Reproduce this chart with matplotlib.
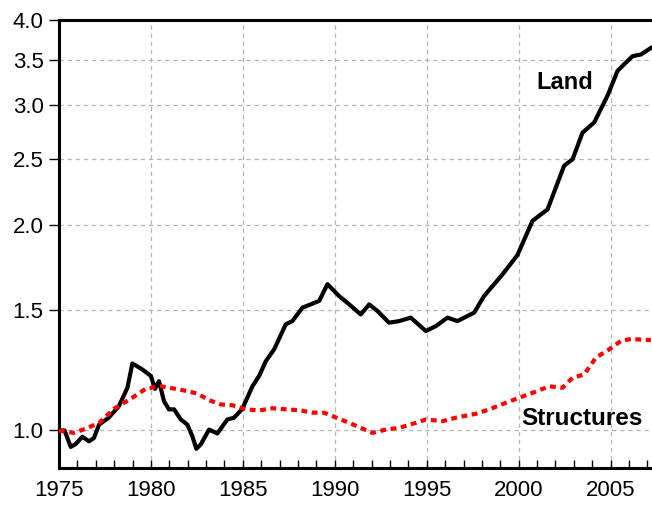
import matplotlib
matplotlib.use("Agg")
import matplotlib.pyplot as plt
from matplotlib.ticker import FixedLocator, MultipleLocator, NullFormatter, NullLocator

plt.rcParams['font.family'] = ['Liberation Sans', 'DejaVu Sans']

land_t = [1975.0, 1975.3, 1975.64, 1975.9, 1976.27, 1976.63, 1976.9, 1977.18, 1977.7, 1978.26,
          1978.72, 1978.99, 1979.53, 1980.0, 1980.22, 1980.44, 1980.71, 1980.98, 1981.26,
          1981.62, 1981.98, 1982.25, 1982.47, 1982.71, 1983.16, 1983.61, 1984.16, 1984.52,
          1984.97, 1985.52, 1985.88, 1986.25, 1986.7, 1987.33, 1987.69, 1988.24, 1989.15,
          1989.6, 1990.23, 1990.78, 1991.41, 1991.87, 1992.32, 1992.95, 1993.5, 1994.13,
          1994.95, 1995.5, 1996.13, 1996.67, 1997.58, 1998.12, 1999.12, 1999.93, 2000.75,
          2001.57, 2002.47, 2002.93, 2003.47, 2004.11, 2004.83, 2005.38, 2006.19, 2006.65,
          2007.19]
land_v = [1.0, 1.0, 0.946, 0.955, 0.979, 0.964, 0.975, 1.02, 1.044, 1.086,
          1.155, 1.254, 1.229, 1.202, 1.151, 1.181, 1.104, 1.074, 1.074,
          1.038, 1.02, 0.981, 0.94, 0.954, 1.003, 0.99, 1.038, 1.044,
          1.076, 1.161, 1.202, 1.264, 1.315, 1.431, 1.447, 1.514, 1.549,
          1.639, 1.575, 1.531, 1.48, 1.531, 1.497, 1.439, 1.447, 1.464,
          1.399, 1.423, 1.464, 1.447, 1.489, 1.575, 1.694, 1.808, 2.03,
          2.11, 2.445, 2.499, 2.734, 2.831, 3.098, 3.37, 3.54, 3.56,
          3.64]

struct_t = [1975.0, 1975.8, 1976.45, 1977.18, 1977.99, 1978.99, 1979.71, 1980.53, 1981.35,
            1981.98, 1982.52, 1983.16, 1983.8, 1984.43, 1985.16, 1985.88, 1986.6, 1987.33,
            1988.06, 1988.78, 1989.42, 1989.87, 1990.78, 1991.41, 1992.05, 1992.77, 1993.5,
            1994.4, 1994.95, 1995.86, 1996.58, 1997.67, 1998.4, 1999.3, 2000.03, 2000.84,
            2001.66, 2002.38, 2002.93, 2003.56, 2004.2, 2004.92, 2005.56, 2006.1, 2007.19]
struct_v = [1.0, 0.992, 1.006, 1.026, 1.076, 1.117, 1.151, 1.161, 1.151,
            1.142, 1.133, 1.108, 1.092, 1.089, 1.074, 1.07, 1.078, 1.074,
            1.071, 1.062, 1.062, 1.05, 1.026, 1.009, 0.992, 1.003, 1.009,
            1.026, 1.038, 1.032, 1.044, 1.058, 1.074, 1.098, 1.117, 1.138,
            1.161, 1.155, 1.195, 1.208, 1.279, 1.315, 1.353, 1.362, 1.357]

y_ticks = [1.0, 1.5, 2.0, 2.5, 3.0, 3.5, 4.0]
y_labels = ["1.0", "1.5", "2.0", "2.5", "3.0", "3.5", "4.0"]
x_ticks = [1975, 1980, 1985, 1990, 1995, 2000, 2005]
x_labels = ["1975", "1980", "1985", "1990", "1995", "2000", "2005"]

fig = plt.figure(figsize=(6.52, 5.08), dpi=100)
ax = fig.add_axes([59/652, 1 - 468/508, 1 - 59/652, (468 - 20)/508])

ax.set_yscale('log')
ax.set_xlim(1975, 2007.25)
ax.set_ylim(0.881, 4.0)

ax.plot(land_t, land_v, color='black', lw=3.0, solid_joinstyle='round', zorder=3)
ax.plot(struct_t, struct_v, color='#ff0000', lw=3.0, dashes=(1.4, 1.1), zorder=3)

ax.yaxis.set_major_locator(FixedLocator(y_ticks))
ax.yaxis.set_minor_locator(NullLocator())
ax.yaxis.set_minor_formatter(NullFormatter())
ax.set_yticks(y_ticks)
ax.set_yticklabels(y_labels)
ax.set_xticks(x_ticks)
ax.set_xticklabels(x_labels)
ax.xaxis.set_minor_locator(MultipleLocator(1))

ax.grid(True, which='major', color='#b4b4b4', lw=0.9, dashes=(3.5, 3))
ax.set_axisbelow(True)

ax.tick_params(axis='y', which='major', direction='out', length=7, width=1, pad=4,
               labelsize=16, color='black')
ax.tick_params(axis='x', which='both', direction='in', length=6, width=1, pad=9,
               labelsize=16, color='black')
ax.tick_params(axis='x', which='both', top=False)

for s in ['left', 'bottom', 'top']:
    ax.spines[s].set_linewidth(2.2)
ax.spines['right'].set_visible(False)

ax.text(2002.53, 3.24, "Land", fontsize=17, fontweight='bold', ha='center', va='center')
ax.text(2003.45, 1.041, "Structures", fontsize=17.5, fontweight='bold', ha='center', va='center')

fig.savefig("out.png", dpi=100)
